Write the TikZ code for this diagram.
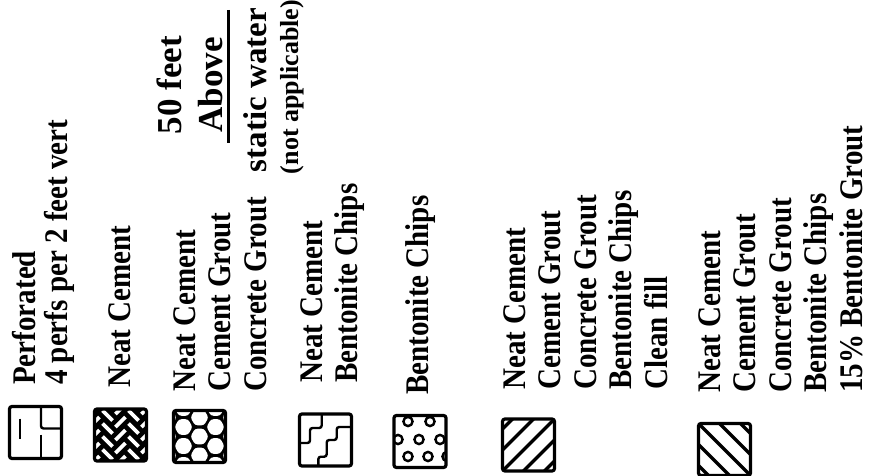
\documentclass[tikz,border=0pt]{standalone}
\usepackage{fontspec}
\setmainfont{Liberation Serif}
\newfontfamily\legfont{Liberation Serif}[FakeStretch=0.88]
\usetikzlibrary{positioning}

\begin{document}
\begin{tikzpicture}[
    x=1pt, y=-1pt,
    legbox/.style={draw, line width=3.2pt, rounded corners=2.5pt, minimum size=52pt, inner sep=0pt},
    legtext/.style={rotate=90, anchor=north west, align=left, inner sep=0pt, font=\legfont\bfseries\fontsize{33}{35.5}\selectfont},
    headtext/.style={rotate=90, anchor=base, inner sep=0pt, font=\bfseries\fontsize{35}{40}\selectfont},
    notetext/.style={rotate=90, anchor=base, inner sep=0pt, font=\bfseries\fontsize{26}{30}\selectfont},
    hatch/.style={line width=3.5pt},
    thinline/.style={line width=2.4pt}
]
\useasboundingbox (0,0) rectangle (873,476);

% header, reads bottom to top
\node[headtext] (fifty) at (181,85) {50 feet};
\node[headtext] (above) at (222,85) {Above};
\node[headtext, font=\bfseries\fontsize{33}{40}\selectfont] (static) at (266,90) {static water};
\node[notetext] (notappl) at (298,87) {(not applicable)};
\draw[line width=2.5pt] (228.5,10) -- (228.5,143);

% legend labels
\node[legtext] (perflab) at (12,385) {Perforated\\[-3.5pt]4 perfs per 2 feet vert};
\node[legtext] (neatlab) at (108,388) {Neat Cement};
\node[legtext] (groutlab) at (173,392) {Neat Cement\\Cement Grout\\Concrete Grout};
\node[legtext] (chipslab) at (300,383) {Neat Cement\\Bentonite Chips};
\node[legtext] (bentlab) at (405,395) {Bentonite Chips};
\node[legtext] (filllab) at (503,390) {Neat Cement\\Cement Grout\\Concrete Grout\\Bentonite Chips\\Clean fill};
\node[legtext] (bgroutlab) at (698,393) {Neat Cement\\Cement Grout\\Concrete Grout\\Bentonite Chips\\15\% Bentonite Grout};

% legend symbols
\node[legbox, path picture={
    \begin{scope}[shift={(path picture bounding box.center)}]
    \draw[thinline] (-15.5,-14) -- (-15.5,6);
    \draw[thinline] (5.5,-28) -- (5.5,-4) -- (28,-4);
    \draw[thinline] (5.5,2) -- (5.5,28);
    \end{scope}}] (perf) at (35.5,432.5) {};

\node[legbox, fill=black, path picture={
    \begin{scope}[shift={(path picture bounding box.center)}]
    \foreach \i in {-26,0,26} \foreach \j in {-26,-13,0,13,26}
        \draw[white, line width=3.6pt] (\i-5,\j+5) -- (\i+5,\j-5);
    \foreach \i in {-13,13} \foreach \j in {-32.5,-19.5,-6.5,6.5,19.5,32.5}
        \draw[white, line width=3.6pt] (\i-5,\j-5) -- (\i+5,\j+5);
    \end{scope}}] (neat) at (120.5,435) {};

\node[legbox, fill=black, path picture={
    \begin{scope}[shift={(path picture bounding box.center)}]
    \foreach \cx/\off in {-32/0, -16/9.5, 0/0, 16/9.5, 32/0} \foreach \r in {-2,...,2}
        \fill[white] (\cx,\r*19+\off) +(0:9pt) -- +(60:9pt) -- +(120:9pt)
            -- +(180:9pt) -- +(240:9pt) -- +(300:9pt) -- cycle;
    \end{scope}}] (concgrout) at (199.5,436.5) {};

\node[legbox, path picture={
    \begin{scope}[shift={(path picture bounding box.center)}]
    \draw[thinline] (-3.8,-28) -- (-3.8,-12) -- (-15.5,-12) -- (-15.5,3) -- (-28,3);
    \draw[thinline] (28,-13) -- (11.2,-13) -- (11.2,0) -- (1.2,0) -- (1.2,16.7) -- (-7.2,16.7) -- (-7.2,28);
    \end{scope}}] (chips) at (325.5,440) {};

\node[legbox, path picture={
    \begin{scope}[shift={(path picture bounding box.center)}]
    \foreach \p in {(-12,-20),(10,-20),(-22,-2),(-1,-2),(20,-2),(-12,15),(8,15),(27,15)}
        \draw[line width=2.4pt] \p circle (4.6pt);
    \end{scope}}] (bentchips) at (420,441.5) {};

\node[legbox, path picture={
    \begin{scope}[shift={(path picture bounding box.center)}]
    \foreach \c in {-42,-21,0,21,42}
        \draw[hatch] (\c-30,30) -- (\c+30,-30);
    \end{scope}}] (cleanfill) at (528.5,445) {};

\node[legbox, path picture={
    \begin{scope}[shift={(path picture bounding box.center)}]
    \foreach \c in {-42,-21,0,21,42}
        \draw[hatch] (\c-30,-30) -- (\c+30,30);
    \end{scope}}] (bentgrout) at (724.5,449.5) {};
\end{tikzpicture}
\end{document}
